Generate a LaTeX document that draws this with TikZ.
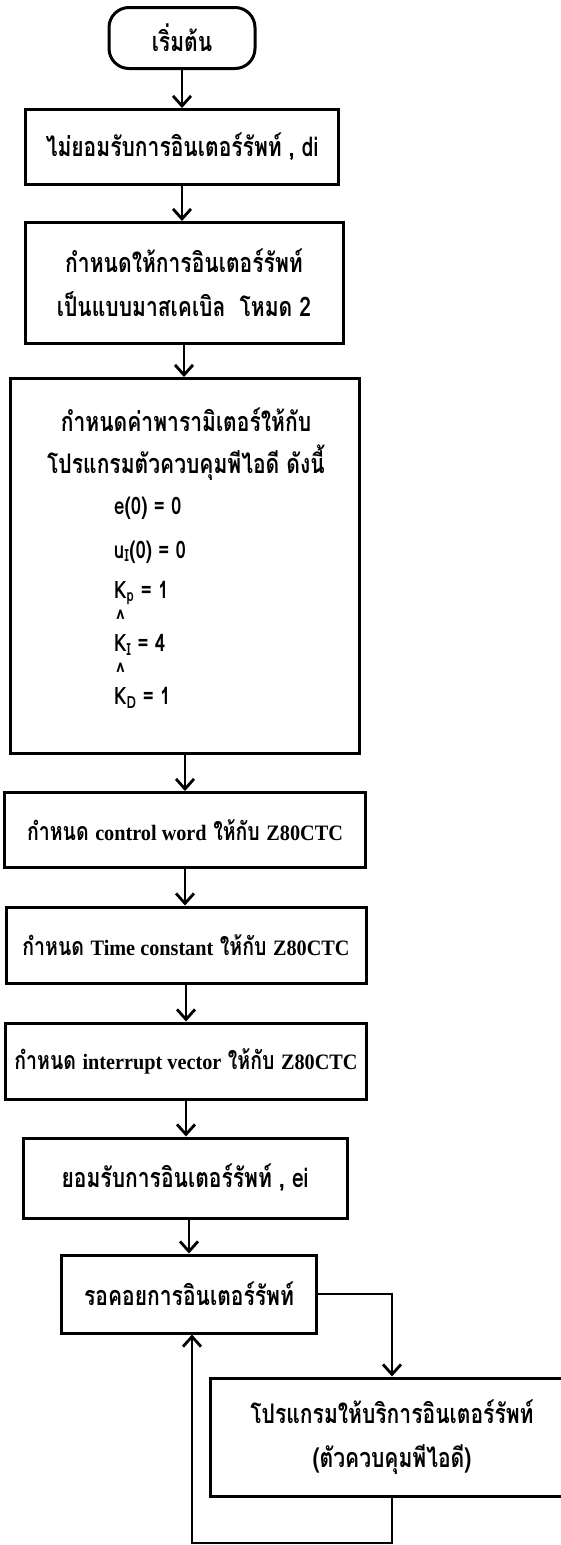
\documentclass[tikz,border=0pt]{standalone}
\usepackage{fontspec}
\setmainfont[Script=Thai, FakeStretch=0.78]{Loma}
\newfontfamily\latinfont[FakeStretch=0.92]{Liberation Serif}
\usetikzlibrary{arrows.meta}
\newcommand{\engtext}[1]{{\latinfont\fontsize{22}{28}\selectfont #1}}

\begin{document}
\begin{tikzpicture}[x=1pt, y=-1pt,
    box/.style={rectangle, draw, line width=3pt, inner sep=0pt, align=center, font=\bfseries\fontsize{27}{44}\selectfont},
    ctcbox/.style={box, font=\bfseries\fontsize{25}{30}\selectfont},
    startbox/.style={box, rounded corners=20pt},
    formula/.style={anchor=west, inner sep=0pt, font=\bfseries\fontsize{24}{26}\selectfont},
    flow/.style={line width=2.8pt, -{Straight Barb[length=10pt,width=18pt]}}
]
\clip (0,0) rectangle (561,1545);

% Main column
\node[startbox, minimum width=146, minimum height=61] (start) at (182,38) {เริ่มต้น};
\node[box, minimum width=313, minimum height=75] (nodi) at (182,147) {ไม่ยอมรับการอินเตอร์รัพท์ , di};
\node[box, minimum width=318, minimum height=121] (mode) at (184,283) {กำหนดให้การอินเตอร์รัพท์\\เป็นแบบมาสเคเบิล~~โหมด 2};
\node[box, minimum width=349, minimum height=375] (param) at (185,566) {};
\node[ctcbox, minimum width=361, minimum height=75] (cword) at (185,830) {กำหนด \engtext{control word} ให้กับ \engtext{Z80CTC}};
\node[ctcbox, minimum width=360, minimum height=76] (tconst) at (186,945) {กำหนด \engtext{Time constant} ให้กับ \engtext{Z80CTC}};
\node[ctcbox, minimum width=361, minimum height=76] (ivec) at (186,1061) {กำหนด \engtext{interrupt vector} ให้กับ \engtext{Z80CTC}};
\node[box, minimum width=324, minimum height=80] (ei) at (185,1178) {ยอมรับการอินเตอร์รัพท์ , ei};
\node[box, minimum width=255, minimum height=78] (wait) at (189,1294) {รอคอยการอินเตอร์รัพท์};
\node[box, minimum width=364, minimum height=118] (isr) at (392,1437) {โปรแกรมให้บริการอินเตอร์รัพท์\\(ตัวควบคุมพีไอดี)};

% Parameter box contents
\node[font=\bfseries\fontsize{27}{42}\selectfont, align=center] (ptitle) at (186,444) {กำหนดค่าพารามิเตอร์ให้กับ\\โปรแกรมตัวควบคุมพีไอดี ดังนี้};
\node[formula] (e0) at (114,508) {e(0) = 0};
\node[formula] (u0) at (114,552) {u\textsubscript{I}(0) = 0};
\node[formula] (kp) at (114,593) {K\textsubscript{p} = 1};
\node[formula] (hati) at (116,619) {\textasciicircum};
\node[formula] (ki) at (114,645) {K\textsubscript{I} = 4};
\node[formula] (hatd) at (116,672) {\textasciicircum};
\node[formula] (kd) at (114,698) {K\textsubscript{D} = 1};

% Connectors
\draw[flow] (start) -- (start |- nodi.north);
\draw[flow] (nodi) -- (nodi |- mode.north);
\draw[flow] (mode) -- (mode |- param.north);
\draw[flow] (param) -- (param |- cword.north);
\draw[flow] (cword) -- (cword |- tconst.north);
\draw[flow] (tconst) -- (tconst |- ivec.north);
\draw[flow] (ivec) -- (ivec |- ei.north);
\draw[flow] (wait.north |- ei.south) -- (wait.north);

% Loop through the service routine
\coordinate (loopend) at (192,1543);
\draw[flow] (wait.east) -| (isr.north);
\draw[flow] (isr.south) |- (loopend) -- (loopend |- wait.south);

\end{tikzpicture}
\end{document}
